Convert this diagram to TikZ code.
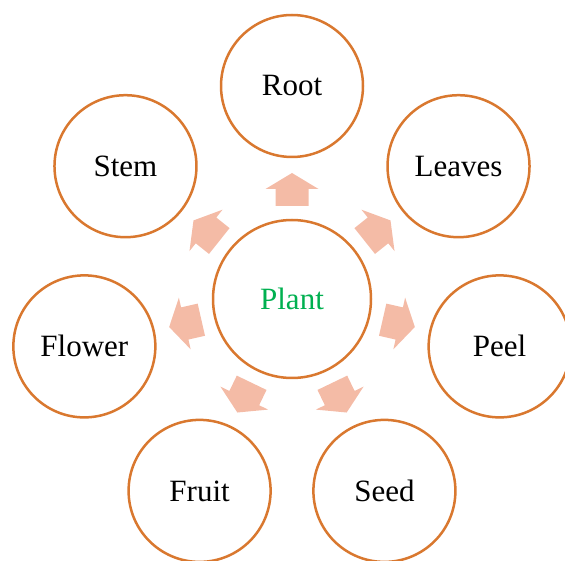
\documentclass[tikz,border=0pt]{standalone}
\usepackage{fontspec}
\setmainfont{Liberation Serif}
\usetikzlibrary{calc}
\definecolor{ring}{HTML}{D9782F}
\definecolor{arrowfill}{HTML}{F4BBA6}
\definecolor{plantgreen}{HTML}{00B050}
\begin{document}
\begin{tikzpicture}[x=1pt,y=1pt,
  bubble/.style={circle, draw=ring, line width=2.5pt, minimum size=142pt, inner sep=0pt, font=\fontsize{31}{37}\selectfont},
  hub/.style={bubble, minimum size=158pt},
  blockarrow/.style={fill=arrowfill}]
\useasboundingbox (0,0) rectangle (565,560);
\coordinate (c) at (292,261);
\node[hub, text=plantgreen] (plant) at (c) {Plant};
\foreach \nm/\lbl [count=\i from 0] in {root/Root, leaves/Leaves, peel/Peel, seed/Seed, fruit/Fruit, flower/Flower, stem/Stem} {
  \pgfmathsetmacro{\ang}{90-\i*360/7}
  \node[bubble] (\nm) at ($(c)+(\ang:213)$) {\lbl};
  \fill[blockarrow, shift={(c)}, rotate=\ang] (93,-16.5) -- (110,-16.5) -- (110,-26.5) -- (126,0) -- (110,26.5) -- (110,16.5) -- (93,16.5) -- cycle;
}
\end{tikzpicture}
\end{document}
